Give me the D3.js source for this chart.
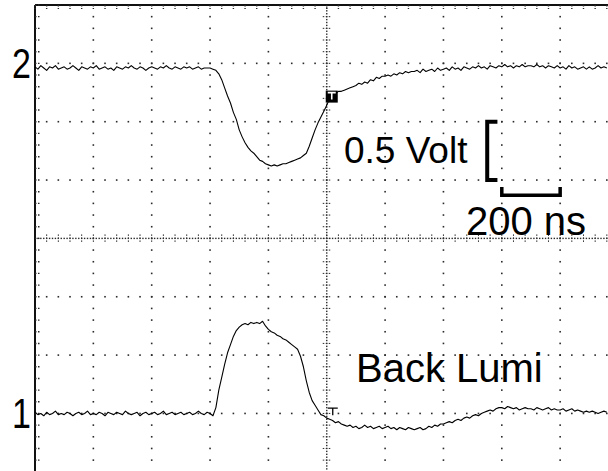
<!DOCTYPE html>
<html>
<head>
<meta charset="utf-8">
<script src="https://cdn.jsdelivr.net/npm/d3@7"></script>
<style>
  html, body { margin: 0; padding: 0; background: #fff; }
  svg { display: block; }
  text { font-family: "Liberation Sans", Arial, sans-serif; fill: #000; }
</style>
</head>
<body>
<svg id="chart" width="608" height="471"></svg>
<script>
// ---- Data ----
// sampling: start time (ns) and step (ns)
const sampleStart = -1000;
const sampleStep = 10;
// channel 2 (upper trace), volts relative to its ground marker
const ch2Volts = [
  -0.03,-0.05,-0.02,-0.04,-0.06,-0.03,-0.04,-0.02,-0.05,-0.04,
  -0.03,-0.05,-0.04,-0.02,-0.04,-0.06,-0.03,-0.04,-0.05,-0.03,
  -0.04,-0.02,-0.05,-0.04,-0.03,-0.05,-0.04,-0.06,-0.03,-0.04,
  -0.05,-0.03,-0.04,-0.02,-0.04,-0.05,-0.03,-0.04,-0.06,-0.04,
  -0.03,-0.04,-0.05,-0.03,-0.04,-0.02,-0.04,-0.05,-0.03,-0.04,
  -0.05,-0.03,-0.04,-0.03,-0.05,-0.04,-0.03,-0.05,-0.04,-0.04,
  -0.04,-0.05,-0.06,-0.09,-0.14,-0.21,-0.28,-0.34,-0.42,-0.48,
  -0.57,-0.63,-0.68,-0.72,-0.75,-0.77,-0.80,-0.83,-0.84,-0.86,
  -0.87,-0.88,-0.87,-0.88,-0.87,-0.86,-0.86,-0.85,-0.84,-0.83,
  -0.82,-0.81,-0.79,-0.77,-0.71,-0.64,-0.57,-0.51,-0.46,-0.41,
  -0.36,-0.30,-0.28,-0.26,-0.24,-0.24,-0.23,-0.22,-0.21,-0.20,
  -0.19,-0.17,-0.18,-0.16,-0.17,-0.14,-0.15,-0.12,-0.13,-0.11,
  -0.11,-0.10,-0.11,-0.09,-0.10,-0.08,-0.09,-0.07,-0.08,-0.07,
  -0.07,-0.06,-0.08,-0.05,-0.07,-0.06,-0.05,-0.07,-0.04,-0.06,
  -0.05,-0.04,-0.06,-0.03,-0.05,-0.04,-0.06,-0.03,-0.04,-0.05,
  -0.03,-0.04,-0.02,-0.04,-0.03,-0.05,-0.02,-0.03,-0.04,-0.02,
  -0.03,-0.01,-0.03,-0.02,-0.04,-0.02,-0.03,-0.01,-0.03,-0.02,
  -0.02,-0.03,-0.01,-0.03,-0.02,-0.04,-0.02,-0.03,-0.04,-0.02,
  -0.04,-0.03,-0.05,-0.02,-0.04,-0.03,-0.05,-0.04,-0.03,-0.05,
  -0.03,-0.05,-0.04,-0.02,-0.04,-0.03,-0.04
];
// channel 1 (lower trace, "Back Lumi"), volts relative to its ground marker
const ch1Volts = [
  0.01,-0.01,0.00,-0.02,0.01,-0.01,0.00,0.02,-0.01,0.00,
  -0.01,0.01,0.00,-0.02,0.00,0.01,-0.01,0.00,0.02,-0.01,
  0.00,-0.01,0.01,0.00,-0.02,0.01,0.00,-0.01,0.01,0.00,
  -0.01,0.02,0.00,-0.01,0.00,0.01,-0.02,0.00,0.01,-0.01,
  0.00,0.01,-0.01,0.00,0.02,-0.01,0.00,0.01,-0.01,0.00,
  0.01,-0.01,0.00,0.01,-0.01,0.00,0.02,0.00,-0.01,0.01,
  0.00,-0.02,0.05,0.20,0.31,0.42,0.52,0.59,0.66,0.71,
  0.74,0.76,0.77,0.76,0.78,0.77,0.78,0.77,0.79,0.75,
  0.72,0.70,0.69,0.67,0.66,0.64,0.63,0.61,0.59,0.57,
  0.55,0.49,0.40,0.28,0.18,0.11,0.07,0.03,-0.01,-0.02,
  -0.04,-0.05,-0.06,-0.08,-0.07,-0.09,-0.10,-0.11,-0.10,-0.12,
  -0.11,-0.13,-0.12,-0.10,-0.12,-0.11,-0.13,-0.12,-0.11,-0.13,
  -0.12,-0.11,-0.13,-0.12,-0.14,-0.12,-0.13,-0.14,-0.12,-0.13,
  -0.14,-0.13,-0.12,-0.14,-0.13,-0.11,-0.12,-0.10,-0.11,-0.09,
  -0.09,-0.08,-0.07,-0.08,-0.06,-0.05,-0.06,-0.04,-0.03,-0.04,
  -0.02,-0.01,-0.02,0.00,0.01,0.02,0.03,0.02,0.04,0.05,
  0.05,0.04,0.06,0.05,0.04,0.05,0.03,0.04,0.05,0.04,
  0.04,0.03,0.05,0.04,0.03,0.04,0.05,0.03,0.04,0.03,
  0.03,0.04,0.02,0.03,0.04,0.02,0.03,0.02,0.01,0.02,
  0.01,0.02,0.01,0.00,0.01,0.02,0.01
];
const channelNames = ["1", "2"];
const channelOffsetsDiv = [-3, 3];   // ground marker positions (divisions)
const voltsPerDiv = 0.5;
const nsPerDiv = 200;
const scaleVoltLabel = "0.5 Volt";
const scaleTimeLabel = "200 ns";
const traceLabel = "Back Lumi";

// ---- Layout ----
const svg = d3.select("#chart");
const leftX = 35, topY = 5, div = 58.35;
const x = d3.scaleLinear().domain([-5 * nsPerDiv, 5 * nsPerDiv]).range([leftX, leftX + 10 * div]);
const y = d3.scaleLinear().domain([-4, 4]).range([topY + 8 * div, topY]);

svg.append("rect").attr("width", 608).attr("height", 471).attr("fill", "#fff");

// ---- Graticule ----
const g = svg.append("g");
const minorT = nsPerDiv / 5, minorD = 0.2;
const dotCol = "#2a2a2a";
function dot(px, py, s) {
  g.append("rect").attr("x", px - s / 2).attr("y", py - s / 2)
    .attr("width", s).attr("height", s).attr("fill", dotCol);
}
// vertical grid lines (non-centre)
for (let i = 1; i <= 9; i++) {
  if (i === 5) continue;
  const gx = x(-1000 + i * nsPerDiv);
  for (let j = 0; j <= 40; j++) dot(gx, y(-4 + j * minorD), 1.6);
}
// horizontal grid lines (non-centre)
for (let k = -3; k <= 3; k++) {
  if (k === 0) continue;
  const gy = y(k);
  for (let j = 0; j <= 50; j++) dot(x(-1000 + j * minorT), gy, 1.6);
}
// centre horizontal line: dense dots + ticks
for (let j = 0; j <= 200; j++) dot(x(-1000 + j * minorT / 4), y(0), 1.4);
for (let j = 0; j <= 50; j++) {
  const px = x(-1000 + j * minorT);
  g.append("line").attr("x1", px).attr("x2", px).attr("y1", y(0) - 4).attr("y2", y(0) + 4)
    .attr("stroke", dotCol).attr("stroke-width", 1).attr("stroke-dasharray", "1.5,1.5");
}
// centre vertical line: dense dots + ticks
for (let j = 0; j <= 160; j++) dot(x(0), y(-4 + j * minorD / 4), 1.4);
for (let j = 0; j <= 40; j++) {
  const py = y(-4 + j * minorD);
  g.append("line").attr("x1", x(0) - 4).attr("x2", x(0) + 4).attr("y1", py).attr("y2", py)
    .attr("stroke", dotCol).attr("stroke-width", 1).attr("stroke-dasharray", "1.5,1.5");
}
// border: top and left solid with small ticks
g.append("line").attr("x1", leftX).attr("x2", 608).attr("y1", topY).attr("y2", topY)
  .attr("stroke", "#111").attr("stroke-width", 2);
g.append("line").attr("x1", leftX).attr("x2", leftX).attr("y1", topY).attr("y2", 471)
  .attr("stroke", "#111").attr("stroke-width", 2);
for (let j = 0; j <= 50; j++) {
  const px = x(-1000 + j * minorT);
  g.append("line").attr("x1", px).attr("x2", px).attr("y1", topY).attr("y2", topY + 4)
    .attr("stroke", dotCol).attr("stroke-width", 1.4).attr("stroke-dasharray", "1.5,1.5");
}
for (let j = 0; j <= 40; j++) {
  const py = y(-4 + j * minorD);
  g.append("line").attr("x1", leftX).attr("x2", leftX + 5).attr("y1", py).attr("y2", py)
    .attr("stroke", dotCol).attr("stroke-width", 1.4).attr("stroke-dasharray", "1.5,1.5");
}

// ---- Traces ----
function traceData(vals, offset) {
  return vals.map((v, i) => [sampleStart + i * sampleStep, offset + v / voltsPerDiv]);
}
const line = d3.line().x(d => x(d[0])).y(d => y(d[1]));
[ch1Volts, ch2Volts].forEach((vals, c) => {
  svg.append("path").datum(traceData(vals, channelOffsetsDiv[c]))
    .attr("d", line).attr("fill", "none").attr("stroke", "#000")
    .attr("stroke-width", 1.1).attr("stroke-linejoin", "round");
});

// ---- Channel markers ----
channelNames.forEach((name, c) => {
  const ty = y(channelOffsetsDiv[c]) + 15;
  svg.append("text")
    .attr("transform", `translate(${leftX - 4},${ty}) scale(0.85,1.05)`)
    .attr("text-anchor", "end").attr("font-size", 40).text(name);
});

// trigger / cursor markers at t = 0
const mx = x(0);
const m2y = y(channelOffsetsDiv[1] - 0.57);
svg.append("rect").attr("x", mx - 1).attr("y", m2y - 6).attr("width", 12).attr("height", 12).attr("fill", "#000");
svg.append("path").attr("d", `M${mx + 1},${m2y - 4}h8M${mx + 5},${m2y - 4}v7`)
  .attr("stroke", "#fff").attr("stroke-width", 1.6).attr("fill", "none");
const m1y = y(channelOffsetsDiv[0] + 0.09);
svg.append("path").attr("d", `M${mx + 1},${m1y}h10M${mx + 6},${m1y}v7`)
  .attr("stroke", "#000").attr("stroke-width", 1.3).attr("fill", "none");

// ---- Scale bars and labels ----
const vbx = x(550), vbArm = x(585);
svg.append("path").attr("d", `M${vbArm},${y(2)}H${vbx}V${y(1)}H${vbArm}`)
  .attr("fill", "none").attr("stroke", "#000").attr("stroke-width", 4);
const tby = y(0.74);
svg.append("path").attr("d", `M${x(600)},${y(0.88)}V${tby}H${x(800)}V${y(0.88)}`)
  .attr("fill", "none").attr("stroke", "#000").attr("stroke-width", 3.5);

svg.append("text").attr("x", 344).attr("y", 163).attr("font-size", 37).text(scaleVoltLabel);
svg.append("text").attr("x", 466).attr("y", 235).attr("font-size", 40).text(scaleTimeLabel);
svg.append("text").attr("x", 356).attr("y", 382).attr("font-size", 40).text(traceLabel);
</script>
</body>
</html>
